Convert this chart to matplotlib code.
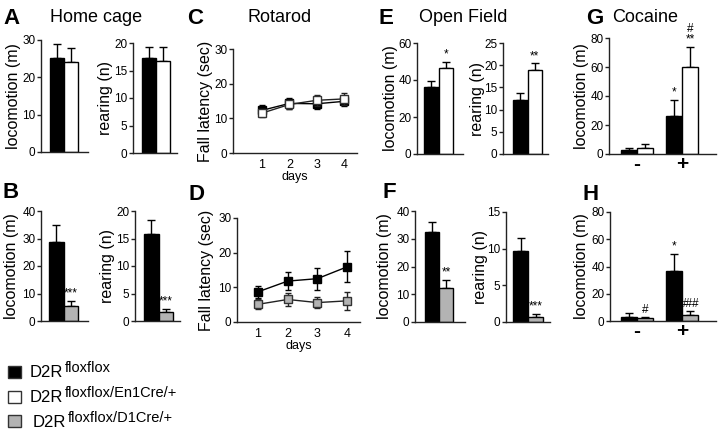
import matplotlib
matplotlib.use("Agg")
import matplotlib.pyplot as plt
from matplotlib.patches import Rectangle

plt.rcParams['font.family'] = ['Liberation Sans', 'DejaVu Sans']

# ---------------- data ----------------
legend_main = ["D2R", "D2R", "D2R"]
legend_sup = ["floxflox", "floxflox/En1Cre/+", "floxflox/D1Cre/+"]
col_black = "#000000"
col_white = "#ffffff"
col_gray = "#b3b3b3"

# Home cage (A: floxflox vs En1Cre, B: floxflox vs D1Cre)
A_loc_mean = [25.2, 24.1]
A_loc_err = [3.7, 3.8]
A_rear_mean = [17.2, 16.7]
A_rear_err = [2.0, 2.6]
B_loc_mean = [28.7, 5.5]
B_loc_err = [6.2, 1.8]
B_rear_mean = [15.9, 1.6]
B_rear_err = [2.4, 0.6]

# Rotarod
days = [1, 2, 3, 4]
C_black = [12.3, 14.3, 14.2, 14.9]
C_black_err = [1.5, 1.5, 1.6, 1.2]
C_white = [11.5, 14.0, 15.2, 15.6]
C_white_err = [1.2, 1.4, 1.6, 1.8]
D_black = [8.7, 11.8, 12.5, 15.9]
D_black_err = [1.7, 2.5, 3.2, 4.5]
D_gray = [5.1, 6.5, 5.6, 6.1]
D_gray_err = [1.4, 1.8, 1.7, 2.6]

# Open field
E_loc_mean = [36.4, 46.5]
E_loc_err = [3.3, 3.5]
E_rear_mean = [12.1, 18.9]
E_rear_err = [1.7, 1.5]
F_loc_mean = [32.3, 12.3]
F_loc_err = [3.8, 3.0]
F_rear_mean = [9.7, 0.75]
F_rear_err = [1.8, 0.4]

# Cocaine
cocaine_labels = ["-", "+"]
G_black = [2.8, 26.5]
G_black_err = [1.1, 10.8]
G_white = [3.9, 60.0]
G_white_err = [3.0, 14.0]
H_black = [3.2, 36.5]
H_black_err = [2.9, 12.5]
H_gray = [2.0, 4.3]
H_gray_err = [0.7, 2.9]

# significance marks
A_marks = ["", ""]
B_loc_marks = ["", "***"]
B_rear_marks = ["", "***"]
E_loc_marks = ["", "*"]
E_rear_marks = ["", "**"]
F_loc_marks = ["", "**"]
F_rear_marks = ["", "***"]
G_black_marks = ["", "*"]
G_white_marks = ["", "#\n**"]
H_black_marks = ["", "*"]
H_gray_marks = ["#", "###"]

# ---------------- layout helpers ----------------
W, H = 720, 429
fig = plt.figure(figsize=(W / 100, H / 100), dpi=100)

TICK_FS = 8.5
LAB_FS = 11.5


def make_ax(left, right, top, bottom):
    return fig.add_axes([left / W, 1 - bottom / H, (right - left) / W, (bottom - top) / H])


def style(ax, ylim, yticks, ylabel, label_right_px, left_px, right_px):
    ax.set_ylim(*ylim)
    ax.set_yticks(yticks)
    ax.spines['top'].set_visible(False)
    ax.spines['right'].set_visible(False)
    for s in ('left', 'bottom'):
        ax.spines[s].set_linewidth(1.0)
        ax.spines[s].set_color('#222222')
    ax.tick_params(axis='y', length=3, width=1, color='#222222', labelsize=TICK_FS, pad=1)
    ax.set_ylabel(ylabel, fontsize=LAB_FS)
    ax.yaxis.set_label_coords((label_right_px - left_px) / (right_px - left_px), 0.5)


def annotate_marks(ax, xs, means, errs, marks):
    for x, m, e, t in zip(xs, means, errs, marks):
        if t:
            ax.annotate(t, (x, m + e), xytext=(0, 1), textcoords='offset points',
                        ha='center', va='bottom', fontsize=8.5, linespacing=0.8)


def bar_panel(px, means, errs, colors, ymax, yticks, ylabel, marks, label_px):
    left, right, top, bottom, bar_start, bar_w = px
    ax = make_ax(left, right, top, bottom)
    xs = list(range(len(means)))
    ax.bar(xs, means, width=1.0, color=colors, edgecolor='black', linewidth=1.0, zorder=2)
    ax.errorbar(xs, means, yerr=[[0] * len(errs), errs], fmt='none', ecolor='black',
                elinewidth=1.0, capsize=3, capthick=1.0, zorder=1)
    ax.set_xlim(-0.5 - (bar_start - left) / bar_w, -0.5 + (right - bar_start) / bar_w)
    ax.set_xticks([])
    style(ax, (0, ymax), yticks, ylabel, label_px, left, right)
    annotate_marks(ax, xs, means, errs, marks)
    return ax


def group_panel(px, v1, e1, c1, v2, e2, c2, ymax, yticks, ylabel, m1, m2, label_px):
    left, right, top, bottom, center0, pitch = px
    ax = make_ax(left, right, top, bottom)
    bw = 0.35
    xs = list(range(len(v1)))
    x1 = [x - bw / 2 for x in xs]
    x2 = [x + bw / 2 for x in xs]
    for xx, vv, ee, cc, mm in ((x1, v1, e1, c1, m1), (x2, v2, e2, c2, m2)):
        ax.bar(xx, vv, width=bw, color=cc, edgecolor='black', linewidth=1.0, zorder=2)
        ax.errorbar(xx, vv, yerr=[[0] * len(ee), ee], fmt='none', ecolor='black',
                    elinewidth=1.0, capsize=3, capthick=1.0, zorder=1)
        annotate_marks(ax, xx, vv, ee, mm)
    ax.set_xlim((left - center0) / pitch, (right - center0) / pitch)
    ax.set_xticks(xs)
    ax.set_xticklabels(cocaine_labels, fontsize=15, fontweight='bold')
    ax.tick_params(axis='x', length=0, pad=1)
    style(ax, (0, ymax), yticks, ylabel, label_px, left, right)
    return ax


def line_panel(px, y1, e1, mfc1, y2, e2, mfc2, label_px):
    left, right, top, bottom, x1px, x4px = px
    ax = make_ax(left, right, top, bottom)
    unit = (x4px - x1px) / 3
    ax.errorbar(days, y1, yerr=e1, color='black', lw=1.0, marker='s', ms=6,
                mfc=mfc1, mec='black', elinewidth=1.0, capsize=2, zorder=2)
    ax.errorbar(days, y2, yerr=e2, color='#222222', lw=1.0, marker='s', ms=6,
                mfc=mfc2, mec='#333333', elinewidth=1.0, capsize=2, zorder=3)
    ax.set_xlim(1 - (x1px - left) / unit, 1 + (right - x1px) / unit)
    ax.set_xticks(days)
    ax.tick_params(axis='x', length=0, labelsize=TICK_FS + 0.5, pad=4)
    ax.set_xlabel("days", fontsize=9, labelpad=0)
    style(ax, (0, 30), [0, 10, 20, 30], "Fall latency (sec)", label_px, left, right)
    return ax


# ---------------- panels ----------------
bar_panel((41, 88, 40, 152, 50, 14), A_loc_mean, A_loc_err, [col_black, col_white],
          30, [0, 10, 20, 30], "locomotion (m)", A_marks, 21)
bar_panel((133, 177, 43, 153, 142, 14), A_rear_mean, A_rear_err, [col_black, col_white],
          20, [0, 5, 10, 15, 20], "rearing (n)", A_marks, 113)
bar_panel((41, 88, 211, 321, 49, 14.5), B_loc_mean, B_loc_err, [col_black, col_gray],
          40, [0, 10, 20, 30, 40], "locomotion (m)", B_loc_marks, 19)
bar_panel((135, 180, 211, 321, 144, 14.5), B_rear_mean, B_rear_err, [col_black, col_gray],
          20, [0, 5, 10, 15, 20], "rearing (n)", B_rear_marks, 115)

line_panel((233, 357, 49, 153, 262, 344), C_black, C_black_err, 'black',
           C_white, C_white_err, 'white', 213)
line_panel((237, 360, 218, 322, 258, 347), D_black, D_black_err, 'black',
           D_gray, D_gray_err, col_gray, 214)

bar_panel((417, 463, 43, 154, 424, 14.5), E_loc_mean, E_loc_err, [col_black, col_white],
          60, [0, 20, 40, 60], "locomotion (m)", E_loc_marks, 398)
bar_panel((503, 548, 43, 154, 513, 14.5), E_rear_mean, E_rear_err, [col_black, col_white],
          25, [0, 5, 10, 15, 20, 25], "rearing (n)", E_rear_marks, 485)
bar_panel((415, 465, 211, 322, 425, 14), F_loc_mean, F_loc_err, [col_black, col_gray],
          40, [0, 10, 20, 30, 40], "locomotion (m)", F_loc_marks, 392)
bar_panel((506, 550, 212, 322, 513, 15), F_rear_mean, F_rear_err, [col_black, col_gray],
          15, [0, 5, 10, 15], "rearing (n)", F_rear_marks, 488)

group_panel((609, 716, 38, 154, 637, 45), G_black, G_black_err, col_black,
            G_white, G_white_err, col_white, 80, [0, 20, 40, 60, 80], "locomotion (m)",
            G_black_marks, G_white_marks, 589)
group_panel((610, 716, 212, 321, 637, 45), H_black, H_black_err, col_black,
            H_gray, H_gray_err, col_gray, 80, [0, 20, 40, 60, 80], "locomotion (m)",
            H_black_marks, H_gray_marks, 589)

# ---------------- titles and panel letters ----------------
def ftext(x, y, s, **kw):
    return fig.text(x / W, 1 - y / H, s, **kw)

for lx, ly, letter in [(3, 18, "A"), (3, 193, "B"), (187, 18, "C"), (189, 194, "D"),
                       (379, 18, "E"), (383, 193, "F"), (586, 18, "G"), (583, 194, "H")]:
    ftext(lx, ly, letter, fontsize=16, fontweight='bold', va='center', ha='left')

for tx, ty, title in [(96, 17, "Home cage"), (280, 17, "Rotarod"),
                      (463, 17, "Open Field"), (645, 17, "Cocaine")]:
    ftext(tx, ty, title, fontsize=13, va='center', ha='center')

# ---------------- legend (manual) ----------------
renderer = fig.canvas.get_renderer()
legend_rows = [(366, 377, 30), (391, 402, 30), (415, 427, 33)]  # square top, text baseline, text x
for (sq_top, base, tx), face, main, sup in zip(legend_rows, [col_black, col_white, col_gray],
                                              legend_main, legend_sup):
    fig.add_artist(Rectangle((8 / W, 1 - (sq_top + 12) / H), 13 / W, 12 / H,
                             transform=fig.transFigure, facecolor=face,
                             edgecolor='#333333', linewidth=1.0))
    t = ftext(tx, base, main, fontsize=12, va='baseline', ha='left')
    bb = t.get_window_extent(renderer)
    fig.text((bb.x1 + 1.5) / W, 1 - (base - 5) / H, sup, fontsize=10.5,
             va='baseline', ha='left')

fig.savefig("out.png", dpi=100)
